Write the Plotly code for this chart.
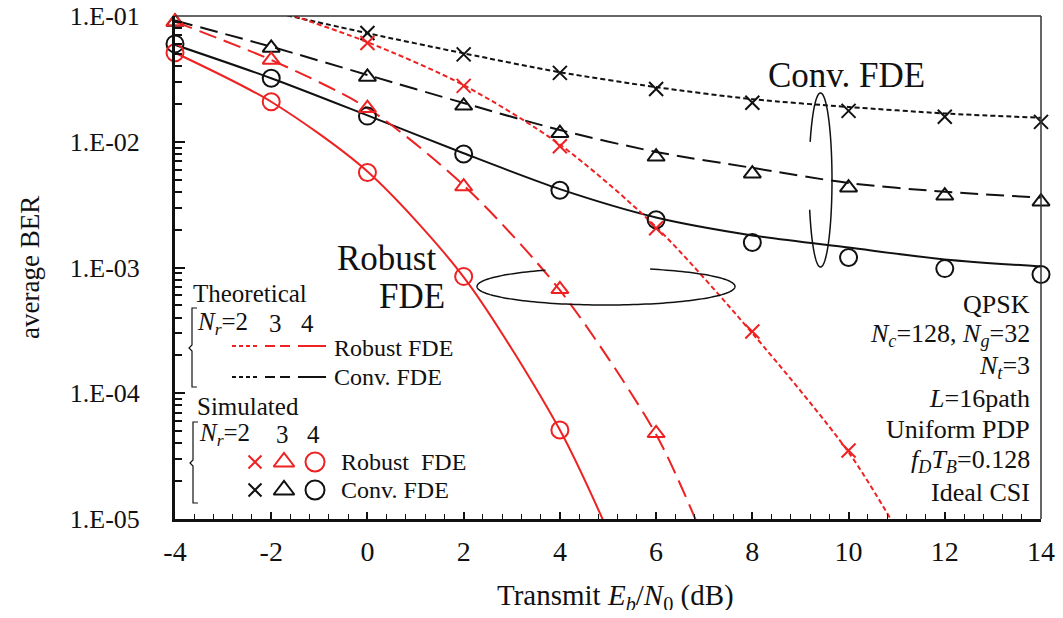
import numpy as np
import plotly.graph_objects as go

# ---------------- data ----------------
x_sim = [-4, -2, 0, 2, 4, 6, 8, 10, 12, 14]

# Simulated (markers)
sim_rob_nr2_x = [0, 2, 4, 6, 8, 10]
sim_rob_nr2 = [0.061, 0.0278, 0.0092, 0.00205, 0.00031, 3.5e-5]
sim_rob_nr3_x = [-4, -2, 0, 2, 4, 6]
sim_rob_nr3 = [0.090, 0.0447, 0.0185, 0.0044, 0.00067, 4.8e-5]
sim_rob_nr4_x = [-4, -2, 0, 2, 4]
sim_rob_nr4 = [0.051, 0.0208, 0.0057, 0.00085, 5.1e-5]

sim_conv_nr2_x = [0, 2, 4, 6, 8, 10, 12, 14]
sim_conv_nr2 = [0.0733, 0.0495, 0.0353, 0.0263, 0.0204, 0.0176, 0.0158, 0.0144]
sim_conv_nr3_x = x_sim
sim_conv_nr3 = [0.0896, 0.0557, 0.0328, 0.0193, 0.0117, 0.0076, 0.00557, 0.00431, 0.00372, 0.00334]
sim_conv_nr4_x = x_sim
sim_conv_nr4 = [0.0600, 0.032, 0.0160, 0.0080, 0.00412, 0.0024, 0.00158, 0.0012, 0.00098, 0.00088]

# Theoretical (lines)
th_rob_nr2_x = [-2, 0, 2, 4, 6, 8, 10, 11]
th_rob_nr2 = [0.115, 0.062, 0.0282, 0.0095, 0.0021, 0.0003, 3.4e-5, 8.3e-6]
th_rob_nr3_x = [-4, -2, 0, 2, 4, 6, 7]
th_rob_nr3 = [0.090, 0.0447, 0.0185, 0.0045, 0.00066, 4.7e-5, 6.8e-6]
th_rob_nr4_x = [-4, -2, 0, 2, 4, 5]
th_rob_nr4 = [0.051, 0.0208, 0.0058, 0.00084, 5.1e-5, 8e-6]

th_conv_nr2_x = [-2, 0, 2, 4, 6, 8, 10, 12, 14]
th_conv_nr2 = [0.108, 0.073, 0.0505, 0.0357, 0.0272, 0.0218, 0.0189, 0.0168, 0.0155]
th_conv_nr3_x = x_sim
th_conv_nr3 = [0.092, 0.057, 0.034, 0.0203, 0.0124, 0.0083, 0.0062, 0.0047, 0.0040, 0.0036]
th_conv_nr4_x = x_sim
th_conv_nr4 = [0.0590, 0.032, 0.0162, 0.0081, 0.0042, 0.0025, 0.0018, 0.00144, 0.00116, 0.00102]

x_ticks = [-4, -2, 0, 2, 4, 6, 8, 10, 12, 14]
x_ticktext = ["-4", "-2", "0", "2", "4", "6", "8", "10", "12", "14"]
y_ticks = [1e-5, 1e-4, 1e-3, 1e-2, 1e-1]
y_ticktext = ["1.E-05", "1.E-04", "1.E-03", "1.E-02", "1.E-01"]

# ---------------- style / layout geometry ----------------
RED = "#ee2222"
BLACK = "#111111"
FONT = "Liberation Serif"
OFF = 8                       # default page body margin
W, H = 1063 - 2 * OFF, 618 - 2 * OFF
PX0, PX1, PY0, PY1 = 175, 1041, 16, 519   # plot area in page pixels
L, R = PX0 - OFF, OFF + W - PX1
T, B = PY0 - OFF, OFF + H - PY1
PW, PH = PX1 - PX0, PY1 - PY0


def px(x):
    return (x - PX0) / PW


def py(y):
    return (PY1 - y) / PH


DOT = "5px,3px"
DASH = "18px,8px"

fig = go.Figure()


def add_line(xs, ys, color, dash):
    fig.add_trace(go.Scatter(x=xs, y=ys, mode="lines",
                             line=dict(color=color, width=2, dash=dash, shape="spline", smoothing=0.8),
                             showlegend=False, hoverinfo="skip"))


def add_markers(xs, ys, color, symbol, size, xa="x", ya="y"):
    fig.add_trace(go.Scatter(x=xs, y=ys, mode="markers", cliponaxis=False, xaxis=xa, yaxis=ya,
                             marker=dict(symbol=symbol, size=size, color=color, line=dict(color=color, width=2)),
                             showlegend=False, hoverinfo="skip"))


add_line(th_conv_nr2_x, th_conv_nr2, BLACK, DOT)
add_line(th_conv_nr3_x, th_conv_nr3, BLACK, DASH)
add_line(th_conv_nr4_x, th_conv_nr4, BLACK, "solid")
add_line(th_rob_nr2_x, th_rob_nr2, RED, DOT)
add_line(th_rob_nr3_x, th_rob_nr3, RED, DASH)
add_line(th_rob_nr4_x, th_rob_nr4, RED, "solid")

add_markers(sim_conv_nr2_x, sim_conv_nr2, BLACK, "x-thin-open", 14)
add_markers(sim_conv_nr3_x, sim_conv_nr3, BLACK, "triangle-up-open", 15)
add_markers(sim_conv_nr4_x, sim_conv_nr4, BLACK, "circle-open", 17)
add_markers(sim_rob_nr2_x, sim_rob_nr2, RED, "x-thin-open", 14)
add_markers(sim_rob_nr3_x, sim_rob_nr3, RED, "triangle-up-open", 15)
add_markers(sim_rob_nr4_x, sim_rob_nr4, RED, "circle-open", 17)

# legend marker samples on an overlay axis measured in page pixels
for yy, col in [(462, RED), (490, BLACK)]:
    add_markers([255], [yy], col, "x-thin-open", 13, "x2", "y2")
    add_markers([284], [yy], col, "triangle-up-open", 18, "x2", "y2")
    add_markers([315], [yy], col, "circle-open", 19, "x2", "y2")

shapes = []
shapes.append(dict(type="line", xref="paper", yref="paper", x0=0, x1=1, y0=1, y1=1, line=dict(color="#333", width=1.5)))
shapes.append(dict(type="line", xref="paper", yref="paper", x0=1, x1=1, y0=0, y1=1, line=dict(color="#333", width=1.5)))


def ellipse_path(cx, cy, rx, ry, skip):
    t = np.linspace(0, 2 * np.pi, 181)
    segs, cur = [], []
    for a in t:
        x = cx + rx * np.cos(a)
        y = cy - ry * np.sin(a)
        if skip(x, y):
            if cur:
                segs.append(cur)
                cur = []
        else:
            cur.append((x, y))
    if cur:
        if segs and not skip(cx + rx, cy):
            segs[0] = cur + segs[0]
        else:
            segs.append(cur)
    parts = []
    for s in segs:
        parts.append("M " + " L ".join(f"{px(a):.5f},{py(b):.5f}" for a, b in s))
    return " ".join(parts)


shapes.append(dict(type="path", xref="paper", yref="paper", line=dict(color=BLACK, width=1.5),
                   path=ellipse_path(820.5, 180, 11.5, 87, lambda x, y: x < 820 and 143 < y < 208)))
shapes.append(dict(type="path", xref="paper", yref="paper", line=dict(color=BLACK, width=1.5),
                   path=ellipse_path(606, 286.5, 129, 18.5, lambda x, y: y < 286 and 547 < x < 648)))


def bracket(x, y0, y1, ym):
    pts = [(x + 5, y0), (x, y0), (x, ym - 3), (x - 3, ym), (x, ym + 3), (x, y1), (x + 5, y1)]
    return "M " + " L ".join(f"{px(a):.5f},{py(b):.5f}" for a, b in pts)


shapes.append(dict(type="path", xref="paper", yref="paper", line=dict(color=BLACK, width=1.2),
                   path=bracket(192, 308, 387, 348)))
shapes.append(dict(type="path", xref="paper", yref="paper", line=dict(color=BLACK, width=1.2),
                   path=bracket(193, 422, 503, 463)))

for (x0, x1, dash) in [(232, 257, "4px,3px"), (265, 292, "10px,5px"), (298, 326, "solid")]:
    for (yy, col) in [(346, RED), (377, BLACK)]:
        shapes.append(dict(type="line", xref="paper", yref="paper", x0=px(x0), x1=px(x1), y0=py(yy), y1=py(yy),
                           line=dict(color=col, width=2, dash=dash)))

ann = []


def text(x, y, s, size, color=BLACK, anchor="left"):
    ann.append(dict(x=px(x), y=py(y), xref="paper", yref="paper", text=s, showarrow=False,
                    xanchor=anchor, yanchor="middle", font=dict(family=FONT, size=size, color=color)))


NR = "<i>N</i><sub><i>r</i></sub>=2"
text(191, 293, "Theoretical", 25)
text(195, 323, NR, 25)
text(267, 323, "3", 25)
text(299, 323, "4", 25)
text(332, 348, "Robust FDE", 24)
text(332, 377, "Conv. FDE", 24)
text(195, 406, "Simulated", 25)
text(197, 434, NR, 25)
text(274, 434, "3", 25)
text(305, 434, "4", 25)
text(339, 462, "Robust  FDE", 24)
text(339, 490, "Conv. FDE", 24)

text(386, 258, "Robust", 35, BLACK, "center")
text(412, 296, "FDE", 35, BLACK, "center")
text(846, 75, "Conv. FDE", 35, BLACK, "center")

params = ["QPSK",
          "<i>N</i><sub><i>c</i></sub>=128, <i>N</i><sub><i>g</i></sub>=32",
          "<i>N</i><sub><i>t</i></sub>=3",
          "<i>L</i>=16path",
          "Uniform PDP",
          "<i>f</i><sub><i>D</i></sub><i>T</i><sub><i>B</i></sub>=0.128",
          "Ideal CSI"]
for i, s in enumerate(params):
    text(1032, 304 + i * 31.4, s, 26, BLACK, "right")

ann.append(dict(x=px(30), y=py(268), xref="paper", yref="paper", text="average BER", showarrow=False,
                textangle=-90, xanchor="center", yanchor="middle", font=dict(family=FONT, size=27, color=BLACK)))
ann.append(dict(x=px(615), y=py(597), xref="paper", yref="paper",
                text="Transmit <i>E</i><sub><i>b</i></sub>/<i>N</i><sub>0</sub> (dB)", showarrow=False,
                xanchor="center", yanchor="middle", font=dict(family=FONT, size=29, color=BLACK)))

fig.update_layout(
    width=W, height=H,
    margin=dict(l=L, r=R, t=T, b=B, pad=0, autoexpand=False),
    paper_bgcolor="white", plot_bgcolor="white",
    shapes=shapes, annotations=ann, showlegend=False,
    xaxis=dict(range=[-4, 14], tickvals=x_ticks, ticktext=x_ticktext, ticks="inside", ticklen=7, tickwidth=1.5,
               tickcolor=BLACK, automargin=False, ticklabeloverflow="allow",
               showgrid=False, zeroline=False, showline=True, linecolor=BLACK, linewidth=3,
               tickfont=dict(family=FONT, size=28, color=BLACK), ticklabelstandoff=5,
               minor=dict(dtick=0.4, ticks="inside", ticklen=5, tickwidth=1.2, tickcolor=BLACK, showgrid=False)),
    yaxis=dict(type="log", range=[-5, -1], tickvals=y_ticks, ticktext=y_ticktext, ticks="inside", ticklen=10,
               tickwidth=2, tickcolor=BLACK, showgrid=False, zeroline=False, showline=True, linecolor=BLACK,
               linewidth=3, tickfont=dict(family=FONT, size=26, color=BLACK), ticklabelstandoff=27,
               automargin=False, ticklabeloverflow="allow",
               minor=dict(dtick="D1", ticks="inside", ticklen=7, tickwidth=2, tickcolor=BLACK, showgrid=False)),
    xaxis2=dict(overlaying="x", range=[PX0, PX1], visible=False, fixedrange=True),
    yaxis2=dict(overlaying="y", range=[PY1, PY0], visible=False, fixedrange=True),
)

fig.write_html("out.html")
